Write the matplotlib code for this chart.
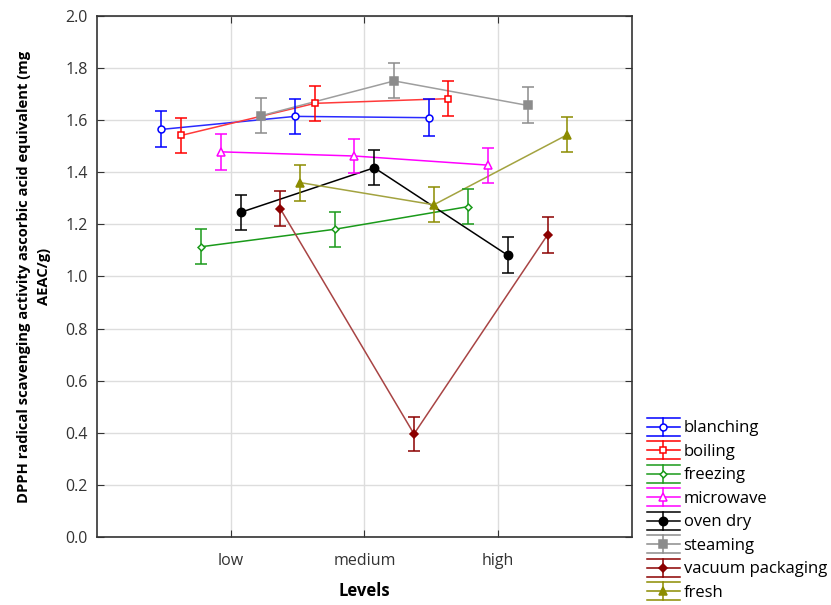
import matplotlib
matplotlib.use('Agg')

import numpy as np
import matplotlib.pyplot as plt
from matplotlib.lines import Line2D
from matplotlib.container import ErrorbarContainer
from matplotlib.legend_handler import HandlerBase

# =====================
# DATOS
# =====================

levels = ["low", "medium", "high"]

blanching = [1.564, 1.614, 1.609]
boiling = [1.541, 1.664, 1.682]
freezing = [1.114, 1.181, 1.268]
microwave = [1.478, 1.462, 1.427]
oven_dry = [1.246, 1.417, 1.081]
steaming = [1.616, 1.750, 1.656]
vacuum_packaging = [1.259, 0.396, 1.160]
fresh = [1.360, 1.275, 1.544]

blanching_err = [0.069, 0.067, 0.070]
boiling_err = [0.067, 0.067, 0.067]
freezing_err = [0.067, 0.067, 0.067]
microwave_err = [0.069, 0.067, 0.067]
oven_dry_err = [0.067, 0.067, 0.069]
steaming_err = [0.067, 0.067, 0.069]
vacuum_packaging_err = [0.067, 0.067, 0.070]
fresh_err = [0.069, 0.067, 0.067]

labels = ["blanching", "boiling", "freezing", "microwave",
          "oven dry", "steaming", "vacuum packaging", "fresh"]

# =====================
# ESTILO
# =====================

series = [
    (blanching, blanching_err, "#0000ff", "o", "white", 5),
    (boiling, boiling_err, "#ff0000", "s", "white", 5),
    (freezing, freezing_err, "#1a9a1a", "D", "white", 3.5),
    (microwave, microwave_err, "#ff00ff", "^", "white", 5.5),
    (oven_dry, oven_dry_err, "#000000", "o", "#000000", 6),
    (steaming, steaming_err, "#8c8c8c", "s", "#8c8c8c", 6),
    (vacuum_packaging, vacuum_packaging_err, "#8b0000", "D", "#8b0000", 4),
    (fresh, fresh_err, "#8c8c00", "^", "#8c8c00", 5.5),
]

line_colors = {"#8b0000": "#a84444", "#8c8c00": "#a3a340", "#8c8c8c": "#9e9e9e",
               "#0000ff": "#2a2aff", "#ff0000": "#ff3a3a"}

plt.rcParams['font.family'] = ['Open Sans', 'DejaVu Sans']

# =====================
# LEYENDA PERSONALIZADA
# =====================


class BarHandler(HandlerBase):

    def create_artists(self, legend, orig_handle, xdescent, ydescent,
                       width, height, fontsize, trans):
        ln = orig_handle.lines[0]
        c = ln.get_markeredgecolor()
        x0, x1 = -xdescent, width - xdescent
        xm = (x0 + x1) / 2
        ym = height / 2 - ydescent
        half = 6.5
        arts = []
        for y in (ym - half, ym, ym + half):
            arts.append(Line2D([x0, x1], [y, y], color=c, lw=1.1))
        arts.append(Line2D([xm, xm], [ym - half, ym + half], color=c, lw=1.1))
        arts.append(Line2D([xm], [ym], marker=ln.get_marker(), color=c,
                           markerfacecolor=ln.get_markerfacecolor(),
                           markeredgecolor=c, markersize=ln.get_markersize(),
                           markeredgewidth=1.1, linestyle='none'))
        for a in arts:
            a.set_transform(trans)
        return arts


# =====================
# FIGURA
# =====================

fig = plt.figure(figsize=(8.31, 6.05), dpi=100)
ax = fig.add_axes([0.117, 0.112, 0.643, 0.862])

x = np.arange(1, len(levels) + 1)
n = len(series)
step = 1.04 / (n - 1)

handles = []
for i, (vals, errs, col, mk, mfc, ms) in enumerate(series):
    off = (i - (n - 1) / 2) * step
    h = ax.errorbar(x + off, vals, yerr=errs, color=col,
                    ecolor=col, elinewidth=1.1, capsize=4.5, capthick=1.1,
                    marker=mk, markersize=ms, markerfacecolor=mfc,
                    markeredgecolor=col, markeredgewidth=1.1,
                    linestyle='none', zorder=3)
    handles.append(h)
    # linea de conexion en tono mas claro
    ax.plot(x + off, vals, color=line_colors.get(col, col), lw=1.1, zorder=2)

ax.set_xlim(0, 4)
ax.set_ylim(0, 2.0)
ax.set_xticks(x)
ax.set_xticklabels(levels)
ax.set_yticks(np.arange(0, 2.01, 0.2))
ax.set_yticklabels([f"{v:.1f}" for v in np.arange(0, 2.01, 0.2)])

ax.grid(True, color="#dddddd", lw=1)
ax.set_axisbelow(True)
ax.tick_params(direction='in', top=True, right=True, length=5,
               labelsize=11.5, labelcolor="#333333", color="#333333")
ax.tick_params(axis='x', pad=11)
ax.tick_params(axis='y', pad=7)
for s in ax.spines.values():
    s.set_color("#333333")
    s.set_linewidth(1.2)

ax.set_xlabel("Levels", fontsize=12, fontweight='bold', labelpad=10)
ax.set_ylabel("DPPH radical scavenging activity ascorbic acid equivalent (mg\nAEAC/g)",
              fontsize=10.6, fontweight='bold', labelpad=10, linespacing=1.55)

fig.legend(handles, labels, handler_map={ErrorbarContainer: BarHandler()},
           loc='upper left', bbox_to_anchor=(0.778, 0.305), frameon=False,
           borderpad=0, borderaxespad=0, fontsize=12, handlelength=2.0,
           handletextpad=0.22, labelspacing=0.45)

fig.savefig("out.png", dpi=100)
